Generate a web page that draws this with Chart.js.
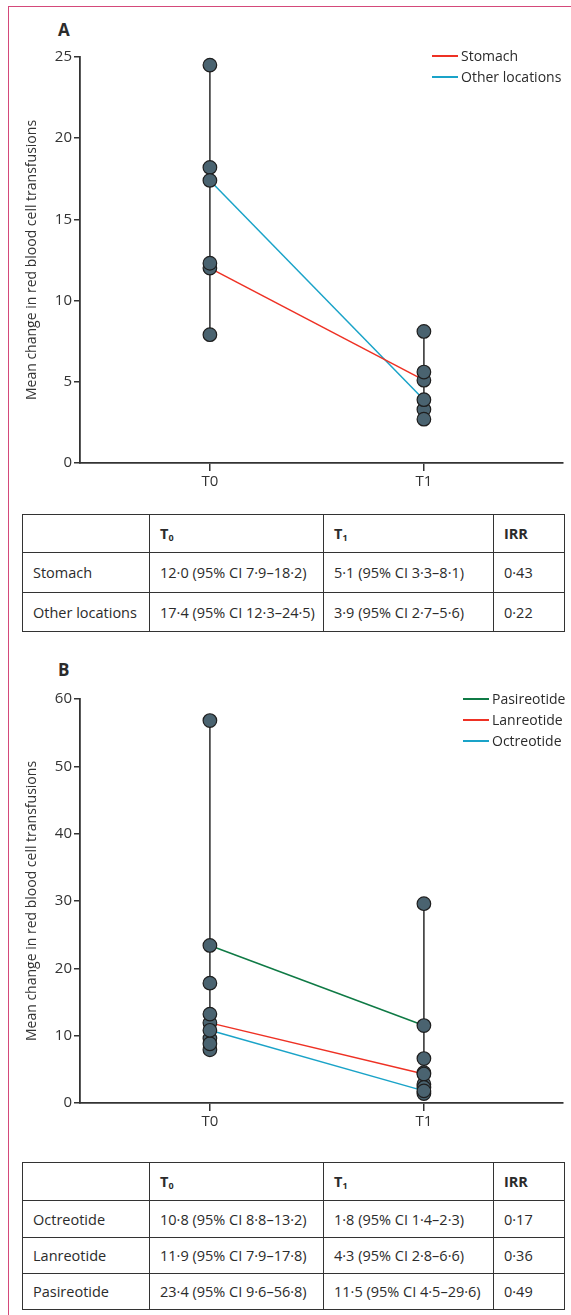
<!DOCTYPE html>
<html>
<head>
<meta charset="utf-8">
<script src="https://cdn.jsdelivr.net/npm/chart.js@4.4.1/dist/chart.umd.min.js"></script>
<style>
body{margin:0;background:#fff;font-family:"Open Sans",sans-serif;color:#2b2b2b;}
#page{position:relative;width:571px;height:1315px;overflow:hidden;}
.frame{position:absolute;left:8px;top:6px;width:600px;height:1400px;border-top:1.5px solid #d4497a;border-left:1.5px solid #d4497a;}
.panel{position:absolute;left:58px;font-weight:700;font-size:17px;line-height:20px;}
.chart{position:absolute;left:0;width:571px;height:500px;}
.legend{position:absolute;font-size:14px;line-height:21px;}
.legend div{display:flex;align-items:center;white-space:nowrap;}
.legend .sw{display:inline-block;width:26px;height:2px;margin-right:3px;}
table{position:absolute;left:22px;border-collapse:collapse;table-layout:fixed;font-size:14.5px;}
td{border:1.5px solid #333;padding:0 0 0 10px;white-space:nowrap;}
tr.head td{font-weight:700;}
sub{font-size:9px;vertical-align:-2px;}
</style>
</head>
<body>
<div id="page">
<div class="frame"></div>
<div class="panel" style="top:20px">A</div>
<div class="chart" style="top:0"><canvas id="chartA"></canvas></div>
<div class="legend" id="legendA" style="left:432px;top:45px"></div>
<table id="tableA" style="top:514px"></table>

<div class="panel" style="top:660px">B</div>
<div class="chart" style="top:640px"><canvas id="chartB"></canvas></div>
<div class="legend" id="legendB" style="left:463px;top:688px"></div>
<table id="tableB" style="top:1162px"></table>
</div>

<script>
const timeLabels = ["T0", "T1"];
const yTitle = "Mean change in red blood cell transfusions";

// panel A
const seriesA = ["Stomach", "Other locations"];
const meanA = [[12.0, 5.1], [17.4, 3.9]];
const lowA = [[7.9, 3.3], [12.3, 2.7]];
const highA = [[18.2, 8.1], [24.5, 5.6]];
const colorsA = ["#ee3124", "#1aa3c8"];
const yMaxA = 25, yStepA = 5;

// panel B
const seriesB = ["Pasireotide", "Lanreotide", "Octreotide"];
const meanB = [[23.4, 11.5], [11.9, 4.3], [10.8, 1.8]];
const lowB = [[9.6, 4.5], [7.9, 2.8], [8.8, 1.4]];
const highB = [[56.8, 29.6], [17.8, 6.6], [13.2, 2.3]];
const colorsB = ["#0f7a45", "#ee3124", "#1aa3c8"];
const yMaxB = 60, yStepB = 10;

// tables
const tableHead = ["", "T<sub>0</sub>", "T<sub>1</sub>", "IRR"];
const rowsA = [
["Stomach", "12·0 (95% CI 7·9–18·2)", "5·1 (95% CI 3·3–8·1)", "0·43"],
["Other locations", "17·4 (95% CI 12·3–24·5)", "3·9 (95% CI 2·7–5·6)", "0·22"]
];
const rowsB = [
["Octreotide", "10·8 (95% CI 8·8–13·2)", "1·8 (95% CI 1·4–2·3)", "0·17"],
["Lanreotide", "11·9 (95% CI 7·9–17·8)", "4·3 (95% CI 2·8–6·6)", "0·36"],
["Pasireotide", "23·4 (95% CI 9·6–56·8)", "11·5 (95% CI 4·5–29·6)", "0·49"]
];
const colWidths = [127, 174, 170, 71];

Chart.defaults.font.family = '"Open Sans", sans-serif';
Chart.defaults.color = "#2b2b2b";

function makeChart(id, names, mean, low, high, colors, yMax, yStep, padTop){

const datasets = [];

// points: mean and CI limits of every group
const pts = [];
for(let s=0; s<names.length; s++){
for(let t=0; t<timeLabels.length; t++){
pts.push({x:t, y:low[s][t]});
pts.push({x:t, y:high[s][t]});
pts.push({x:t, y:mean[s][t]});
}
}
datasets.push({
type:"scatter",
data:pts,
pointRadius:6.8,
pointBackgroundColor:"#4a6370",
pointBorderColor:"#1e1e1e",
pointBorderWidth:1.2,
order:0
});

// coloured mean lines
names.forEach((n,s)=>{
datasets.push({
type:"line",
label:n,
data:timeLabels.map((l,t)=>({x:t, y:mean[s][t]})),
borderColor:colors[s],
borderWidth:1.5,
pointRadius:0,
order:1
});
});

// vertical range lines
timeLabels.forEach((l,t)=>{
const vals = pts.filter(p=>p.x===t).map(p=>p.y);
datasets.push({
type:"line",
data:[{x:t, y:Math.min(...vals)}, {x:t, y:Math.max(...vals)}],
borderColor:"#2a2a2a",
borderWidth:1.5,
pointRadius:0,
order:2
});
});

return new Chart(document.getElementById(id), {
type:"scatter",
data:{datasets:datasets},
options:{
responsive:true,
maintainAspectRatio:false,
animation:false,
layout:{padding:{left:0, right:8, top:padTop, bottom:0}},
plugins:{legend:{display:false}, tooltip:{enabled:false}},
scales:{
x:{
type:"linear",
min:-0.607,
max:1.65,
afterBuildTicks:s=>{ s.ticks = timeLabels.map((l,i)=>({value:i})); },
afterFit:s=>{ s.height = 37; },
ticks:{callback:v=>timeLabels[v], font:{size:15}, color:"#333", padding:2, maxRotation:0},
grid:{drawOnChartArea:false, tickLength:8, color:"#333", lineWidth:1.5},
border:{color:"#333", width:1.8}
},
y:{
min:0,
max:yMax,
afterFit:s=>{ s.width = 80; },
ticks:{stepSize:yStep, font:{size:15}, color:"#333", padding:2},
grid:{drawOnChartArea:false, tickLength:6, color:"#333", lineWidth:1.5},
border:{color:"#333", width:1.8},
title:{display:true, text:yTitle, font:{size:14}, color:"#333", padding:{top:24, bottom:0}}
}
}
}
});
}

function makeLegend(id, names, colors){
const box = document.getElementById(id);
names.forEach((n,i)=>{
const d = document.createElement("div");
d.innerHTML = '<span class="sw" style="background-color:'+colors[i]+'"></span>'+n;
box.appendChild(d);
});
}

function makeTable(id, rows, heights){
const tb = document.getElementById(id);
let html = "<colgroup>"+colWidths.map(w=>'<col style="width:'+w+'px">').join("")+"</colgroup>";
html += '<tr class="head" style="height:'+heights[0]+'px">'+tableHead.map(h=>"<td>"+h+"</td>").join("")+"</tr>";
rows.forEach((r,i)=>{
html += '<tr style="height:'+heights[i+1]+'px">'+r.map(c=>"<td>"+c+"</td>").join("")+"</tr>";
});
tb.innerHTML = html;
}

makeChart("chartA", seriesA, meanA, lowA, highA, colorsA, yMaxA, yStepA, 57);
makeChart("chartB", seriesB, meanB, lowB, highB, colorsB, yMaxB, yStepB, 59);
makeLegend("legendA", seriesA, colorsA);
makeLegend("legendB", seriesB, colorsB);
makeTable("tableA", rowsA, [38, 40, 39]);
makeTable("tableB", rowsB, [38, 37, 36, 36]);
</script>
</body>
</html>
